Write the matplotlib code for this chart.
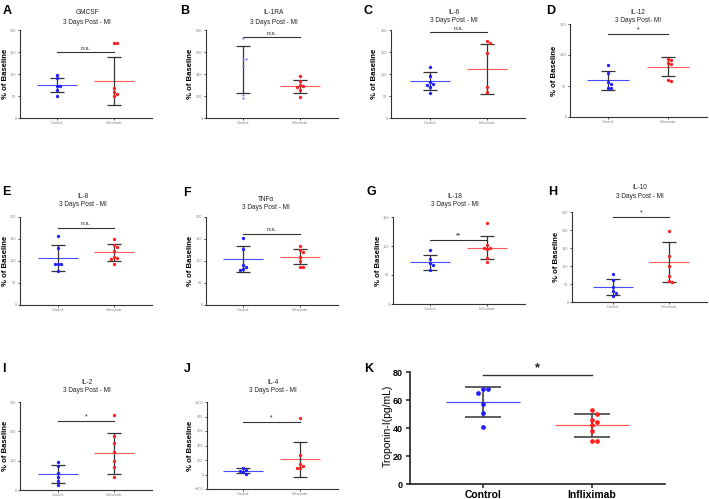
import numpy as np
import matplotlib
matplotlib.use('Agg')
import matplotlib.pyplot as plt

plt.rcParams['font.family'] = ['Liberation Sans', 'DejaVu Sans']

W, H = 709, 499
groups = ['Control', 'Infliximab']

# data (% of baseline / pg/mL)
panels = ['A', 'B', 'C', 'D', 'E', 'F', 'G', 'H', 'I', 'J', 'K']
names = ['GMCSF', 'IL-1RA', 'IL-6', 'IL-12', 'IL-8', 'TNFα', 'IL-18', 'IL-10', 'IL-2', 'IL-4', '']
ctrl_vals = [
    [98, 90, 73, 72, 64, 51],
    [730, 538, 532, 471, 213, 182],
    [115, 96, 81, 78, 75, 70, 57],
    [84, 71, 57, 54, 47, 46],
    [157, 129, 94, 94, 94, 78],
    [153, 127, 92, 86, 81, 80],
    [93, 78, 70, 67, 58],
    [77, 62, 42, 30, 25, 16],
    [94, 83, 59, 45, 32, 17],
    [92, 64, 55, 32, 9],
    [68, 68, 65, 57, 51, 41],
]
infl_vals = [
    [171, 171, 68, 60, 54, 50],
    [386, 334, 304, 295, 283, 258, 192],
    [174, 171, 147, 70, 58],
    [93, 92, 87, 86, 59, 58],
    [150, 137, 132, 122, 110, 106, 104, 94],
    [135, 124, 121, 110, 99, 87, 87],
    [140, 101, 97, 96, 94, 80, 72],
    [197, 127, 99, 71, 58, 56],
    [255, 184, 159, 130, 100, 79, 43],
    [780, 275, 147, 115, 92, 83],
    [53, 50, 46, 44, 42, 38, 31, 31],
]
ctrl_mean = [75, 440, 84, 59, 106, 104, 72, 42, 55, 55, 58.5]
ctrl_sd = [17, 212, 20, 15.5, 29.5, 29, 13, 23, 29.5, 37, 10.7]
infl_mean = [84, 289, 112, 81, 120, 110, 97, 111, 125, 208, 41.8]
infl_sd = [54, 61, 57, 15, 19.5, 17, 20, 56, 70, 237, 8]
sig_y = [149, 736, 195, 134, 175, 162, 110, 236, 236, 730, 78]
sig_txt = ['n.s.', 'n.s.', 'n.s.', '*', 'n.s.', 'n.s.', '**', '*', '*', '*', '*']
yticks = [
    [0, 50, 100, 150, 200],
    [0, 200, 400, 600, 800],
    [0, 50, 100, 150, 200],
    [0, 50, 100, 150],
    [0, 50, 100, 150, 200],
    [0, 50, 100, 150, 200],
    [0, 50, 100, 150],
    [0, 50, 100, 150, 200, 250],
    [0, 100, 200, 300],
    [-200, 0, 200, 400, 600, 800, 1000],
    [0, 20, 40, 60, 80],
]

# layout in pixels: left, right, top, bottom, x of Control, x of Infliximab
boxes = {
    'A': (20, 152, 30, 118, 57, 114), 'B': (206, 338, 30, 118, 243, 300),
    'C': (391, 525, 30, 118, 430, 487), 'D': (570, 707, 24, 117, 608, 668),
    'E': (20, 152, 217, 305, 58, 114), 'F': (206, 338, 217, 305, 243, 300),
    'G': (393, 525, 217, 304, 430, 487), 'H': (572, 707, 212, 302, 613, 669),
    'I': (20, 152, 402, 490, 58, 114), 'J': (207, 338, 402, 489, 243, 300),
    'K': (410, 665, 372, 484, 483, 592),
}
letter_pos = {'A': (7, 11), 'B': (185, 11), 'C': (368, 11), 'D': (551, 11),
              'E': (6, 192), 'F': (187, 193), 'G': (371, 192), 'H': (553, 192),
              'I': (4, 369), 'J': (187, 369), 'K': (369, 369)}
title_pos = {'A': (87, 13, 23), 'B': (274, 13, 22), 'C': (454, 13, 21), 'D': (638, 13, 21),
             'E': (83, 196, 204), 'F': (266, 199, 207), 'G': (455, 196, 204), 'H': (640, 188, 196),
             'I': (87, 383, 391), 'J': (273, 383, 391)}
# centre x of the y-axis labels
ylab_x = {'A': 6, 'B': 190, 'C': 375, 'D': 555, 'E': 6, 'F': 190, 'G': 378, 'H': 557,
          'I': 6, 'J': 190, 'K': 388}

BLUE, RED = '#1f1fff', '#ff1f1f'
BLUE_L, RED_L = '#4a4aff', '#ff5a5a'
DARK = '#333333'


def swarm(vals, ypx, xpx, dot):
    placed, offs = [], []
    for v in vals:
        for k in [0, 1, -1, 2, -2, 3, -3]:
            x = k * dot
            if all((x - px) ** 2 + ((v - pv) * ypx) ** 2 >= (dot * 0.95) ** 2 for px, pv in placed):
                break
        placed.append((x, v))
        offs.append(x / xpx)
    return offs


fig = plt.figure(figsize=(W / 100, H / 100), dpi=100)

for i, p in enumerate(panels):
    L, R, T, B, c0, c1 = boxes[p]
    big = p == 'K'
    ax = fig.add_axes([L / W, 1 - B / H, (R - L) / W, (B - T) / H])
    unit = c1 - c0
    ax.set_xlim((L - c0) / unit, (R - c0) / unit)
    yt = yticks[i]
    ax.set_ylim(yt[0], yt[-1])
    ypx = (B - T) / (yt[-1] - yt[0])
    ax.set_yticks(yt)
    ax.set_xticks([0, 1])
    ax.set_xticklabels(groups)
    for s in ['top', 'right']:
        ax.spines[s].set_visible(False)
    for s in ['left', 'bottom']:
        ax.spines[s].set_color(DARK if not big else '#222222')
        ax.spines[s].set_linewidth(1.2 if big else 0.8)

    dot = 4.6 if big else 3.3
    ms = 3.4 if big else 2.4
    mw = 0.34 if big else 0.35
    cw = 0.165 if big else 0.12
    lw_e = 1.1 if big else 0.9

    for g, (vals, m, sd, col, coll) in enumerate([
            (ctrl_vals[i], ctrl_mean[i], ctrl_sd[i], BLUE, BLUE_L),
            (infl_vals[i], infl_mean[i], infl_sd[i], RED, RED_L)]):
        offs = swarm(vals, ypx, unit, dot)
        small = p == 'B' and g == 0
        ax.plot(np.array(offs) + g, vals, 'o', color='#7a7aff' if small else col,
                ms=1.6 if small else ms, mew=0, zorder=4)
        ax.vlines(g, m - sd, m + sd, color=DARK, lw=lw_e, zorder=3)
        ax.hlines([m - sd, m + sd], g - cw, g + cw, color=DARK, lw=lw_e, zorder=3)
        if not small:
            ax.hlines(m, g - mw, g + mw, color=coll, lw=0.9 if big else 0.8, zorder=2)

    # significance bar
    ax.plot([0, 1], [sig_y[i]] * 2, color=DARK, lw=1.0 if big else 0.8, clip_on=False)
    off = 1.5 if sig_txt[i] == 'n.s.' else 0.5
    ax.text(0.5, sig_y[i] + off / ypx, sig_txt[i], ha='center', va='bottom',
            fontsize=(9 if big else 5) if '*' in sig_txt[i] else 4.6, color='#222222',
            fontweight='bold' if big else 'normal')

    if big:
        ax.tick_params(axis='y', length=3, width=1.1, color='#222222', pad=2)
        ax.tick_params(axis='x', length=3, width=1.1, color='#222222', pad=1)
        for lab in ax.get_yticklabels():
            lab.set_fontsize(6.5)
            lab.set_fontweight('bold')
        for lab in ax.get_xticklabels():
            lab.set_fontsize(7.5)
            lab.set_fontweight('bold')
        ax.set_ylabel('Troponin-I(pg/mL)', fontsize=7.5, va='center')
        ax.yaxis.set_label_coords((ylab_x[p] - L) / (R - L), 0.52)
    else:
        ax.tick_params(axis='both', length=1.5, width=0.6, color=DARK, pad=1,
                       labelsize=2.8, labelcolor='#888888')
        ax.set_ylabel('% of Baseline', fontsize=5.6, fontweight='bold', va='center')
        ax.yaxis.set_label_coords((ylab_x[p] - L) / (R - L), 0.5)
        tx, ty1, ty2 = title_pos[p]
        fig.text(tx / W, 1 - ty1 / H, names[i], ha='center', va='center', fontsize=4.7, color='#222222')
        post = '3 Days Post- MI' if p == 'D' else '3 Days Post - MI'
        fig.text(tx / W, 1 - ty2 / H, post, ha='center', va='center', fontsize=4.7, color='#222222')

    lx, ly = letter_pos[p]
    fig.text(lx / W, 1 - ly / H, p, ha='center', va='center', fontsize=9, fontweight='bold')

fig.savefig('out.png', dpi=100, facecolor='white')
